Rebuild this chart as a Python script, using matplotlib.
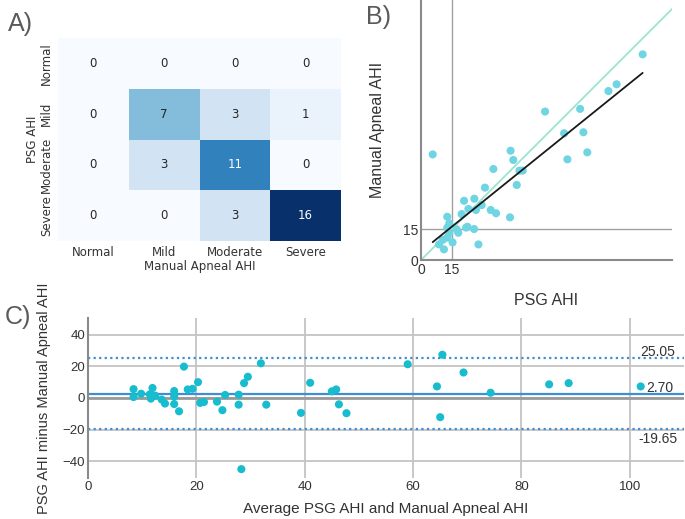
import matplotlib.pyplot as plt
import numpy as np
import seaborn as sns

# A) confusion matrix (rows: PSG AHI, cols: Manual Apneal AHI)
categories = ["Normal", "Mild", "Moderate", "Severe"]
confusion = np.array([
    [0, 0, 0, 0],
    [0, 7, 3, 1],
    [0, 3, 11, 0],
    [0, 0, 3, 16],
])

# B) scatter of PSG AHI vs Manual Apneal AHI
psg_ahi = [5.7, 8.8, 11.2, 10.6, 12.8, 12.8, 13.8, 12.8, 13.8, 15.4,
           17.4, 18.2, 19.8, 21.0, 22.0, 22.6, 23.1, 26.0, 26.8, 25.9,
           28.0, 29.6, 31.2, 34.0, 36.6, 35.3, 43.7, 45.0, 43.4, 46.7,
           48.0, 49.6, 60.5, 69.8, 71.4, 77.6, 79.2, 81.1, 91.4, 95.4,
           108.1]
manual_ahi = [51.5, 7.6, 5.2, 9.8, 21.1, 15.8, 17.9, 10.9, 13.0, 8.6,
              15.0, 13.3, 22.4, 28.9, 15.8, 16.2, 24.9, 29.9, 24.4, 15.1,
              7.6, 26.8, 35.3, 24.4, 22.8, 44.4, 53.3, 48.8, 20.8, 36.6,
              43.6, 43.6, 72.4, 61.8, 49.1, 73.7, 62.3, 52.5, 82.4, 85.7,
              100.3]
b_ticks = [0, 15]

# C) Bland-Altman
ba_mean = [8.4, 8.4, 9.8, 11.4, 11.6, 11.9, 12.4, 13.6, 14.2, 15.9,
           15.9, 15.9, 16.8, 17.7, 18.4, 19.3, 20.3, 20.7, 21.4, 23.8,
           24.8, 25.3, 27.8, 27.8, 28.3, 28.8, 29.5, 31.9, 32.9, 39.3,
           41.0, 45.0, 45.8, 46.3, 47.7, 59.0, 64.4, 65.4, 65.0, 69.3,
           74.3, 85.1, 88.7, 102.0]
ba_diff = [5.6, 0.6, 2.7, 2.3, -0.4, 6.3, 1.5, -1.0, -3.5, 4.4,
           1.0, -3.8, -8.4, 19.8, 5.4, 5.8, 10.0, -3.1, -2.5, -2.3,
           -7.7, 1.9, 2.1, -4.2, -44.9, 9.4, 13.4, 21.9, -4.2, -9.4,
           9.6, 4.2, 5.4, -4.0, -9.6, 21.3, 7.3, 27.3, -12.1, 16.1,
           3.3, 8.6, 9.4, 7.3]
bias = 2.70
upper_loa = 25.05
lower_loa = -19.65

sns.set_style("white")
plt.rcParams["font.family"] = ["DejaVu Sans"]

fig = plt.figure(figsize=(6.85, 5.19), dpi=100)
label_color = "#5a5a5a"
text_color = "#333333"

# ---------------- A) heatmap ----------------
ax_a = fig.add_axes([0.0847, 0.5356, 0.4131, 0.3912])
sns.heatmap(confusion, annot=True, cmap="Blues", cbar=False, ax=ax_a,
            xticklabels=categories, yticklabels=categories,
            annot_kws={"fontsize": 8.5})
ax_a.set_xlabel("Manual Apneal AHI", fontsize=8.5, color=text_color, labelpad=1)
ax_a.set_ylabel("PSG AHI", fontsize=8.5, color=text_color, labelpad=1)
ax_a.tick_params(axis="both", labelsize=8.5, colors=text_color, length=0)
ax_a.set_yticklabels(categories, rotation=90, va="center")
fig.text(20 / 685, 1 - 24 / 519, "A)", fontsize=18, color=label_color,
         ha="center", va="center", family="Liberation Sans")

# ---------------- B) scatter ----------------
sans = ["Liberation Sans", "DejaVu Sans"]

ax_b = fig.add_axes([0.6146, 0.499, 0.3664, 0.501])
ax_b.set_xlim(0, 122.4)
ax_b.set_ylim(0, 126.8)
ax_b.axvline(15, color="#a0a0a0", lw=1, zorder=0)
ax_b.axhline(15, color="#a0a0a0", lw=1, zorder=0)
ax_b.plot([0, 130], [0, 130], color="#98e6cf", lw=1.3, zorder=1)
ax_b.scatter(psg_ahi, manual_ahi, s=34, color="#6fd5e3", edgecolor="none", zorder=2)
slope, intercept = np.polyfit(psg_ahi, manual_ahi, 1)
fit_x = np.array([min(psg_ahi), max(psg_ahi)])
ax_b.plot(fit_x, slope * fit_x + intercept, color="#1a1a1a", lw=1.3, zorder=3)
ax_b.set_xticks(b_ticks)
ax_b.set_yticks(b_ticks)
for lab in ax_b.get_xticklabels() + ax_b.get_yticklabels():
    lab.set_family(sans)
ax_b.tick_params(axis="both", labelsize=10, colors=text_color, length=0, pad=2)
for side in ["top", "right"]:
    ax_b.spines[side].set_visible(False)
for side in ["left", "bottom"]:
    ax_b.spines[side].set_color("#8a8a8a")
    ax_b.spines[side].set_linewidth(1.5)
ax_b.set_xlabel("PSG AHI", fontsize=11.5, color=text_color, family=sans)
ax_b.xaxis.set_label_coords(0.5, -0.125)
ax_b.set_ylabel("Manual Apneal AHI", fontsize=11.5, color=text_color, family=sans)
ax_b.yaxis.set_label_coords(-0.145, 0.5)
fig.text(378 / 685, 1 - 17 / 519, "B)", fontsize=18, color=label_color,
         ha="center", va="center", family="Liberation Sans")

# ---------------- C) Bland-Altman ----------------
ax_c = fig.add_axes([0.1285, 0.079, 0.8701, 0.3083])
ax_c.set_xlim(0, 110)
ax_c.set_ylim(-50.5, 50.5)
ax_c.set_xticks([0, 20, 40, 60, 80, 100])
ax_c.set_yticks([-40, -20, 0, 20, 40])
ax_c.grid(True, color="#c4c4c4", lw=1.3)
ax_c.set_axisbelow(True)
ax_c.axhline(0, color="#9a9a9a", lw=2, zorder=1)
ax_c.axhline(bias, color="#3d8ed3", lw=1.6, zorder=2)
ax_c.axhline(upper_loa, color="#3d8ed3", lw=1.6, ls=(0, (1, 1.5)), zorder=2)
ax_c.axhline(lower_loa, color="#3d8ed3", lw=1.6, ls=(0, (1, 1.5)), zorder=2)
ax_c.scatter(ba_mean, ba_diff, s=34, color="#17bccf", edgecolor="none", zorder=3)
ax_c.text(105.2, 28.8, f"{upper_loa:.2f}", ha="center", va="center",
          fontsize=10, color=text_color, family=sans)
ax_c.text(105.6, 6.1, f"{bias:.2f}", ha="center", va="center",
          fontsize=10, color=text_color, family=sans)
ax_c.text(105.2, -26.0, f"{lower_loa:.2f}", ha="center", va="center",
          fontsize=10, color=text_color, family=sans)
for lab in ax_c.get_xticklabels() + ax_c.get_yticklabels():
    lab.set_family(sans)
ax_c.tick_params(axis="both", labelsize=9.5, colors=text_color, length=0, pad=2)
for side in ["top", "right", "bottom"]:
    ax_c.spines[side].set_visible(False)
ax_c.spines["left"].set_color("#8a8a8a")
ax_c.spines["left"].set_linewidth(1.5)
ax_c.set_xlabel("Average PSG AHI and Manual Apneal AHI", fontsize=11,
                color=text_color, family=sans)
ax_c.xaxis.set_label_coords(0.5, -0.15)
ax_c.set_ylabel("PSG AHI minus Manual Apneal AHI", fontsize=10.5,
                color=text_color, family=sans)
ax_c.yaxis.set_label_coords(-0.062, 0.5)
fig.text(18 / 685, 1 - 317 / 519, "C)", fontsize=18, color=label_color,
         ha="center", va="center", family="Liberation Sans")

fig.savefig("out.png", dpi=100)
